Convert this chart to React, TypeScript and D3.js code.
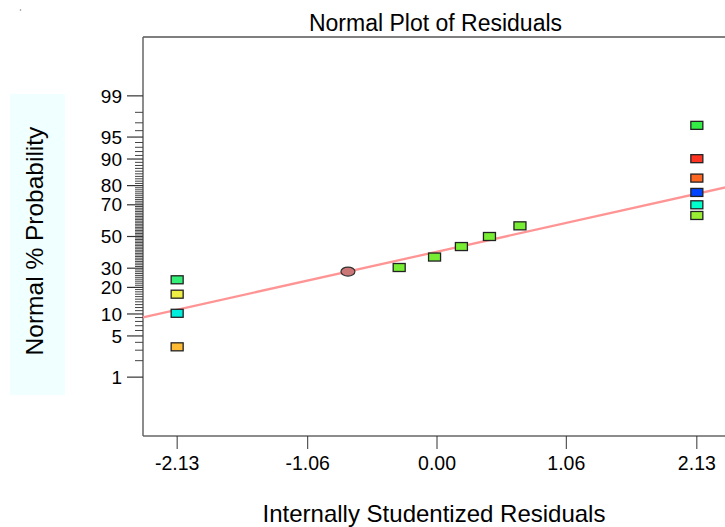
import React, { useRef, useEffect } from 'react';
import * as d3 from 'd3';

// residuals (x) and normal % probability (y)
const residuals = [-2.13, -2.13, -2.13, -2.13, -0.73, -0.31, -0.02, 0.20, 0.43, 0.68, 2.13, 2.13, 2.13, 2.13, 2.13, 2.13];
const probabilities = [3.4, 10.2, 17.0, 23.7, 28.1, 30.4, 36.7, 43.4, 50.0, 57.0, 63.6, 70.0, 76.7, 83.3, 90.1, 96.7];
const pointColors = ['#ffbb33', '#00eedd', '#eeee44', '#33ee77', '#cc7777', '#77ee33', '#77ee33', '#77ee33', '#77ee33', '#77ee33', '#99ee33', '#00ffcc', '#0044ff', '#ff6622', '#ff3322', '#33ee44'];
const pointShapes = ['box', 'box', 'box', 'box', 'ellipse', 'box', 'box', 'box', 'box', 'box', 'box', 'box', 'box', 'box', 'box', 'box'];

const xTicks = [-2.13, -1.06, 0.0, 1.06, 2.13];
const yTickLabels = [1, 5, 10, 20, 30, 50, 70, 80, 90, 95, 99];

// reference line in z units: z = intercept + slope * residual
const fitIntercept = -0.252;
const fitSlope = 0.45;

const width = 725;
const height = 527;
const font = 'Liberation Sans, Arial, sans-serif';

// inverse normal cdf (Acklam)
function probit(p: number) {
  const a = [-39.69683028665376, 220.9460984245205, -275.9285104469687, 138.357751867269, -30.66479806614716, 2.506628277459239];
  const b = [-54.47609879822406, 161.5858368580409, -155.6989798598866, 66.80131188771972, -13.28068155288572];
  const c = [-0.007784894002430293, -0.3223964580411365, -2.400758277161838, -2.549732539343734, 4.374664141464968, 2.938163982698783];
  const d = [0.007784695709041462, 0.3224671290700398, 2.445134137142996, 3.754408661907416];
  const pl = 0.02425;
  let q, r;
  if (p < pl) {
    q = Math.sqrt(-2 * Math.log(p));
    return (((((c[0] * q + c[1]) * q + c[2]) * q + c[3]) * q + c[4]) * q + c[5]) / ((((d[0] * q + d[1]) * q + d[2]) * q + d[3]) * q + 1);
  }
  if (p > 1 - pl) {
    q = Math.sqrt(-2 * Math.log(1 - p));
    return -(((((c[0] * q + c[1]) * q + c[2]) * q + c[3]) * q + c[4]) * q + c[5]) / ((((d[0] * q + d[1]) * q + d[2]) * q + d[3]) * q + 1);
  }
  q = p - 0.5;
  r = q * q;
  return (((((a[0] * r + a[1]) * r + a[2]) * r + a[3]) * r + a[4]) * r + a[5]) * q / (((((b[0] * r + b[1]) * r + b[2]) * r + b[3]) * r + b[4]) * r + 1);
}

const App = () => {
  const svgRef = useRef<SVGSVGElement>(null);

  useEffect(() => {
    const svg = d3.select(svgRef.current);
    svg.selectAll('*').remove();

    const left = 143, right = 731, top = 37, bottom = 436;
    const x = d3.scaleLinear().domain([-2.41, 2.41]).range([left, right]);
    const y = d3.scaleLinear().domain([-3.3, 3.3]).range([bottom, top]);
    const yp = (pct: number) => y(probit(pct / 100));

    // stray dot top-left
    svg.append('circle').attr('cx', 20.5).attr('cy', 10).attr('r', 0.8).attr('fill', '#888');

    // y title box
    svg.append('rect')
      .attr('x', 10).attr('y', 94).attr('width', 55).attr('height', 301)
      .attr('fill', '#f0ffff');
    svg.append('text')
      .attr('transform', 'translate(43,241) rotate(-90)')
      .attr('text-anchor', 'middle')
      .attr('font-family', font)
      .attr('font-size', 24.5)
      .attr('fill', '#000')
      .text('Normal % Probability');

    // title
    svg.append('text')
      .attr('x', (308 + 563) / 2).attr('y', 31)
      .attr('text-anchor', 'middle')
      .attr('font-family', font)
      .attr('font-size', 23)
      .text('Normal Plot of Residuals');

    // x title
    svg.append('text')
      .attr('x', 434).attr('y', 522)
      .attr('text-anchor', 'middle')
      .attr('font-family', font)
      .attr('font-size', 24)
      .text('Internally Studentized Residuals');

    // frame
    svg.append('line').attr('x1', left).attr('x2', right).attr('y1', top).attr('y2', top)
      .attr('stroke', '#000').attr('stroke-width', 1);
    svg.append('line').attr('x1', left).attr('x2', left).attr('y1', top).attr('y2', bottom)
      .attr('stroke', '#666').attr('stroke-width', 1.5);
    svg.append('line').attr('x1', left).attr('x2', right).attr('y1', bottom).attr('y2', bottom)
      .attr('stroke', '#666').attr('stroke-width', 1.5);

    // y minor ticks every percent
    const minor = d3.range(2, 99).filter(v => yTickLabels.indexOf(v) < 0);
    svg.append('g').selectAll('line').data(minor).enter().append('line')
      .attr('x1', left - 8).attr('x2', left)
      .attr('y1', d => yp(d)).attr('y2', d => yp(d))
      .attr('stroke', '#444').attr('stroke-width', 1);

    const yg = svg.append('g').selectAll('g').data(yTickLabels).enter().append('g')
      .attr('transform', d => `translate(0,${yp(d)})`);
    yg.append('line').attr('x1', left - 16).attr('x2', left)
      .attr('stroke', '#333').attr('stroke-width', 1.2);
    yg.append('text')
      .attr('x', left - 21).attr('dy', '0.35em')
      .attr('text-anchor', 'end')
      .attr('font-family', font)
      .attr('font-size', 19)
      .text(d => String(d));

    // x ticks
    const xg = svg.append('g').selectAll('g').data(xTicks).enter().append('g')
      .attr('transform', d => `translate(${x(d)},0)`);
    xg.append('line').attr('y1', bottom).attr('y2', bottom + 13)
      .attr('stroke', '#333').attr('stroke-width', 1);
    xg.append('text')
      .attr('y', 470)
      .attr('text-anchor', 'middle')
      .attr('font-family', font)
      .attr('font-size', 19.5)
      .text(d => d.toFixed(2));

    // fit line
    const [x0, x1] = x.domain();
    svg.append('line')
      .attr('x1', x(x0)).attr('y1', y(fitIntercept + fitSlope * x0))
      .attr('x2', x(x1)).attr('y2', y(fitIntercept + fitSlope * x1))
      .attr('stroke', '#ff9494').attr('stroke-width', 2.3);

    // points
    const pts = residuals.map((r, i) => ({ r, p: probabilities[i], c: pointColors[i], s: pointShapes[i] }));
    const g = svg.append('g');
    pts.forEach(d => {
      if (d.s === 'ellipse') {
        g.append('ellipse')
          .attr('cx', x(d.r)).attr('cy', yp(d.p))
          .attr('rx', 7).attr('ry', 4.5)
          .attr('fill', d.c).attr('stroke', '#333').attr('stroke-width', 1.2);
      } else {
        g.append('rect')
          .attr('x', x(d.r) - 6).attr('y', yp(d.p) - 4)
          .attr('width', 12).attr('height', 8)
          .attr('fill', d.c)
          .attr('stroke', '#222').attr('stroke-width', 1.3);
      }
    });
  }, [svgRef]);

  return (
    <svg ref={svgRef} width={width} height={height}
      style={{ position: 'absolute', left: 0, top: 0, background: '#fff' }} />
  );
};

export default App;
